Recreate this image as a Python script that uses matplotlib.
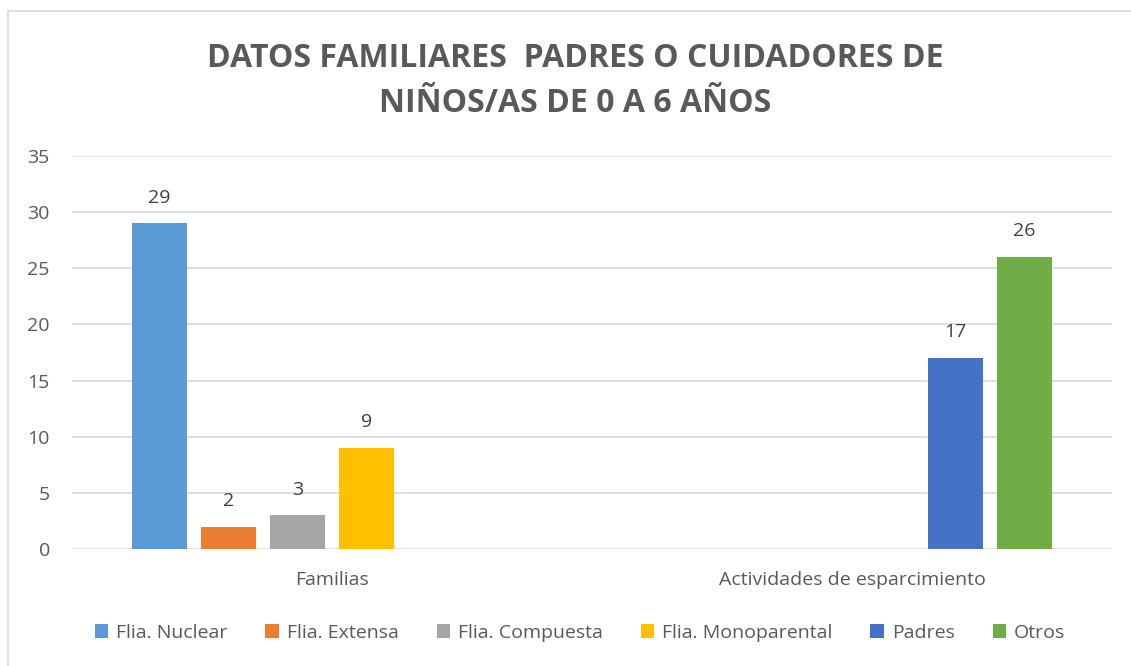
import matplotlib.pyplot as plt
import numpy as np
from matplotlib.patches import Rectangle

categories = ['Familias', 'Actividades de esparcimiento']
series = ['Flia. Nuclear', 'Flia. Extensa', 'Flia. Compuesta',
          'Flia. Monoparental', 'Padres', 'Otros']
values = [
    [29, None],
    [2, None],
    [3, None],
    [9, None],
    [None, 17],
    [None, 26],
]
colors = ['#5b9bd5', '#ed7d31', '#a5a5a5', '#ffc000', '#4472c4', '#70ad47']

plt.rcParams['font.family'] = ['Open Sans', 'DejaVu Sans']

fig = plt.figure(figsize=(11.31, 6.66), dpi=100)
fig.patches.append(Rectangle((8 / 1131, -0.1), 1.2, (666 - 11) / 666 + 0.1,
                             transform=fig.transFigure, fill=False,
                             edgecolor='#d9d9d9', linewidth=1.2))

ax = fig.add_axes([72 / 1131, 1 - 549 / 666, (1112 - 72) / 1131, (549 - 156) / 666])

x = np.arange(len(categories))
slot = 0.1327
width = 0.106
for i, (name, vals) in enumerate(zip(series, values)):
    xs = [x[j] + (i - 2.5) * slot for j in range(len(x)) if vals[j] is not None]
    ys = [v for v in vals if v is not None]
    bars = ax.bar(xs, ys, width=width, color=colors[i], label=name, zorder=3)
    for b, v in zip(bars, ys):
        ax.annotate(str(v), (b.get_x() + b.get_width() / 2, v),
                    xytext=(0, 12), textcoords='offset points',
                    ha='center', va='bottom', fontsize=14, color='#404040')

ax.set_xlim(-0.5, 1.5)
ax.set_ylim(0, 35)
ax.set_yticks(range(0, 36, 5))
ax.set_xticks(x)
ax.set_xticklabels(categories)
ax.yaxis.grid(True, color='#d9d9d9', linewidth=1.2, zorder=0)
for s in ax.spines.values():
    s.set_visible(False)
ax.tick_params(axis='both', length=0, labelsize=14, colors='#595959')
ax.tick_params(axis='x', pad=16)
ax.tick_params(axis='y', pad=16)

fig.text(575 / 1131, 1 - 81 / 666,
         'DATOS FAMILIARES  PADRES O CUIDADORES DE\nNIÑOS/AS DE 0 A 6 AÑOS',
         ha='center', va='center', fontsize=23, fontweight='bold',
         color='#595959', linespacing=1.5)

ax.legend(loc='center', bbox_to_anchor=(508 / 1040, (549 - 633) / (549 - 156)), ncol=6,
          frameon=False, fontsize=14, labelcolor='#595959',
          handlelength=0.7, handleheight=0.7, handletextpad=0.4, columnspacing=1.95)

fig.savefig('out.png', dpi=100)
